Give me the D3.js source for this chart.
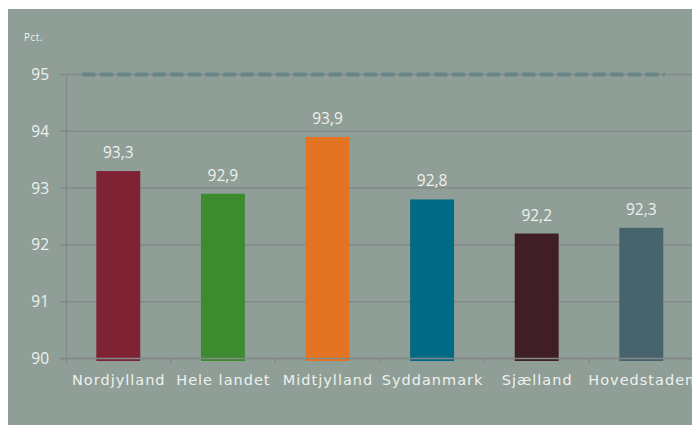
<!DOCTYPE html>
<html><head><meta charset="utf-8">
<script src="https://cdn.jsdelivr.net/npm/d3@7"></script>
<style>html,body{margin:0;padding:0;background:#fff;}svg{display:block;}</style>
</head><body>
<svg id="c" width="692" height="425"></svg>
<script>
const categories = ["Nordjylland","Hele landet","Midtjylland","Syddanmark","Sjælland","Hovedstaden"];
const values = [93.3, 92.9, 93.9, 92.8, 92.2, 92.3];
const colors = ["#7f2233","#3d8a2f","#e27424","#006985","#3f1e25","#47636b"];
const target = 95;
const yTicks = [90, 91, 92, 93, 94, 95];
const yUnit = "Pct.";

const svg = d3.select("#c");
svg.append("rect").attr("x",8).attr("y",9).attr("width",684).attr("height",416).attr("fill","#8f9e96");

const x = d3.scaleBand().domain(categories).range([66, 693.6]).paddingInner(0.58).paddingOuter(0.29);
const y = d3.scaleLinear().domain([90, 95]).range([358.5, 74.5]);

// grid lines
svg.append("g").selectAll("line").data(yTicks).join("line")
  .attr("x1",60).attr("x2",692).attr("y1",d=>y(d)).attr("y2",d=>y(d))
  .attr("stroke","#828986").attr("stroke-width",1.5);

// y tick labels
svg.append("g").selectAll("text").data(yTicks).join("text")
  .attr("x",49).attr("y",d=>y(d)+5.5).attr("text-anchor","end")
  .attr("font-family","'Open Sans', sans-serif").attr("font-size",15.5).attr("fill","#eef1ee")
  .text(d=>d);
svg.append("text").attr("x",24).attr("y",41).attr("font-family","'Open Sans', sans-serif")
  .attr("font-size",10).attr("fill","#eef1ee").attr("letter-spacing",0.5).text(yUnit);

// bars
svg.append("g").selectAll("rect").data(values).join("rect")
  .attr("x",(d,i)=>x(categories[i])).attr("width",x.bandwidth())
  .attr("y",d=>y(d)).attr("height",d=>y(90)+2.5-y(d))
  .attr("fill",(d,i)=>colors[i]);

// x axis line and ticks
svg.append("line").attr("x1",60).attr("x2",692).attr("y1",y(90)).attr("y2",y(90))
  .attr("stroke","#828986").attr("stroke-width",1.5);
svg.append("line").attr("x1",66.5).attr("x2",66.5).attr("y1",y(95)).attr("y2",y(90)+5)
  .attr("stroke","#828986").attr("stroke-width",1.2);
svg.append("g").selectAll("line").data(categories.slice(1)).join("line")
  .attr("x1",d=>x(d)-x.step()*0.29).attr("x2",d=>x(d)-x.step()*0.29)
  .attr("y1",y(90)).attr("y2",y(90)+5).attr("stroke","#828986").attr("stroke-width",1.2);

// target dashed line
svg.append("line")
  .attr("x1",x(categories[0])-14).attr("x2",x(categories[categories.length-1])+x.bandwidth()+1.5)
  .attr("y1",y(target)).attr("y2",y(target))
  .attr("stroke","#6a8585").attr("stroke-width",4).attr("stroke-dasharray","13,4.6");

// value labels
svg.append("g").selectAll("text").data(values).join("text")
  .attr("x",(d,i)=>x(categories[i])+x.bandwidth()/2).attr("y",d=>y(d)-13)
  .attr("text-anchor","middle").attr("font-family","'Open Sans', sans-serif")
  .attr("font-size",15.5).attr("fill","#eef1ee")
  .text(d=>d3.format(".1f")(d).replace(".",","));

// category labels
svg.append("g").selectAll("text").data(categories).join("text")
  .attr("x",d=>x(d)+x.bandwidth()/2+0.5).attr("y",385)
  .attr("text-anchor","middle").attr("font-family","'DejaVu Sans', sans-serif")
  .attr("font-size",14.5).attr("letter-spacing",1).attr("fill","#eef1ee")
  .text(d=>d);
</script>
</body></html>
